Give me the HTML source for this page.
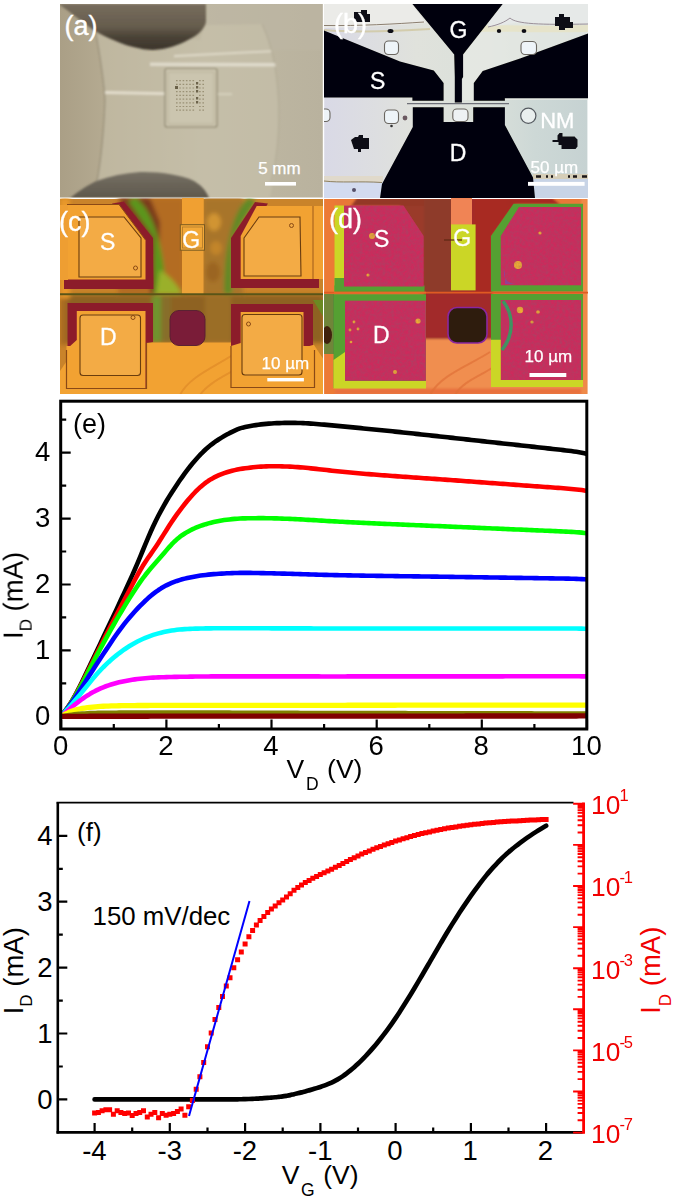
<!DOCTYPE html>
<html><head><meta charset="utf-8"><title>figure</title>
<style>
html,body{margin:0;padding:0;background:#fff;}
body{width:675px;height:1199px;overflow:hidden;font-family:"Liberation Sans",sans-serif;}
svg{display:block;}
text{font-family:"Liberation Sans",sans-serif;}
</style></head><body>
<svg width="675" height="1199" viewBox="0 0 675 1199">
<rect x="0" y="0" width="675" height="1199" fill="#ffffff"/>
<defs>
<filter id="b06" x="-5%" y="-5%" width="110%" height="110%"><feGaussianBlur stdDeviation="0.6"/></filter>
<filter id="b1" x="-5%" y="-5%" width="110%" height="110%"><feGaussianBlur stdDeviation="1.0"/></filter>
<filter id="b2" x="-10%" y="-10%" width="120%" height="120%"><feGaussianBlur stdDeviation="2.0"/></filter>
<filter id="b4" x="-20%" y="-20%" width="140%" height="140%"><feGaussianBlur stdDeviation="4.0"/></filter>
<filter id="b8" x="-30%" y="-30%" width="160%" height="160%"><feGaussianBlur stdDeviation="8.0"/></filter>
<clipPath id="cA"><rect x="60.0" y="4.0" width="262.8" height="193.4"/></clipPath>
<clipPath id="cB"><rect x="324.2" y="4.0" width="263.2" height="193.4"/></clipPath>
<clipPath id="cC"><rect x="60.0" y="198.9" width="263.0" height="195.1"/></clipPath>
<clipPath id="cD"><rect x="324.2" y="198.9" width="263.2" height="195.1"/></clipPath>
<linearGradient id="gA" x1="0" y1="0" x2="1" y2="0"><stop offset="0" stop-color="#aa9f86"/><stop offset="0.18" stop-color="#b5ab92"/><stop offset="0.55" stop-color="#c0b9a3"/><stop offset="1" stop-color="#b9b29e"/></linearGradient>
<linearGradient id="gGloveT" x1="0" y1="0" x2="0" y2="1"><stop offset="0" stop-color="#776d5d"/><stop offset="0.5" stop-color="#665c4d"/><stop offset="0.72" stop-color="#4a4236"/><stop offset="1" stop-color="#3c352b"/></linearGradient>
<linearGradient id="gGloveB" x1="0" y1="0" x2="0" y2="1"><stop offset="0" stop-color="#767064"/><stop offset="1" stop-color="#5e584c"/></linearGradient>
<linearGradient id="gB" x1="0" y1="0" x2="1" y2="0"><stop offset="0" stop-color="#d9d9e6"/><stop offset="0.35" stop-color="#e0e2dc"/><stop offset="0.62" stop-color="#dae0da"/><stop offset="0.8" stop-color="#cdd8d6"/><stop offset="1" stop-color="#c6d2d2"/></linearGradient>
<filter id="nz" x="0" y="0" width="100%" height="100%"><feTurbulence type="fractalNoise" baseFrequency="0.35" numOctaves="2" seed="7" result="t"/><feColorMatrix in="t" type="matrix" values="0 0 0 0 0.25  0 0 0 0 0.1  0 0 0 0 0.15  0.9 0.9 0 0 -0.62"/></filter>
<filter id="nz2" x="0" y="0" width="100%" height="100%"><feTurbulence type="fractalNoise" baseFrequency="0.5" numOctaves="2" seed="3" result="t"/><feColorMatrix in="t" type="matrix" values="0 0 0 0 0.45  0 0 0 0 0.22  0 0 0 0 0.02  0.9 0.9 0 0 -0.66"/></filter>
<clipPath id="cD1"><path d="M344,205.5 L403.5,205.5 L423.7,236 L423.7,286.5 L344,286.5 Z"/></clipPath>
<clipPath id="cD2"><path d="M500.8,236 L519,207 L581,207 L581,285.3 L500.8,285.3 Z"/></clipPath>
</defs>
<g id="panel-a" clip-path="url(#cA)">
<rect x="60" y="4" width="263" height="194" fill="url(#gA)"/>
<g filter="url(#b1)">
<path d="M95,28 C99,50 104,80 105,100 C104,130 101,160 97,182 L97,198 L270,198 C276,165 280,135 278.5,100 C277,70 272,45 262,24 L205,25 L200,40 Z" fill="#c9c3ad" opacity="0.5"/>
<path d="M208,4 L208,25 L262,24 L272,50 L322,50 L322,4 Z" fill="#bdb6a3" opacity="0.6"/>
<path d="M95,28 C99,50 104,80 105,100 C104,130 101,160 97,182" stroke="#7d745e" stroke-width="0.9" fill="none" opacity="0.8"/>
<path d="M262,24 C272,45 277,70 278.5,100 C280,135 276,165 270,185" stroke="#a9a28d" stroke-width="1" fill="none" opacity="0.7"/>
<path d="M174,55 L271,50.2 L271.6,52.2 L174,57.2 Z" fill="#efeadb" opacity="0.6"/>
<path d="M150,62.6 L275,63 L276,66.6 L150,66 Z" fill="#f2eee2" opacity="0.6"/>
<path d="M105,91 L165,92.2 L165,95 L105,94 Z" fill="#ece7d8" opacity="0.8"/><path d="M217,93 L232,93 L232,95.2 L217,95.2 Z" fill="#e6e1d0" opacity="0.5"/>
<rect x="165" y="68.5" width="52" height="58.5" rx="2" fill="#cbc5af" stroke="#857d64" stroke-width="1.1"/>
<rect x="168" y="72" width="46" height="52" rx="1" fill="none" stroke="#b4ac92" stroke-width="0.7"/>
</g>
<path d="M176.0,80.0h1.6v1.2h-1.6zM179.3,80.0h1.6v1.2h-1.6zM182.6,80.0h1.6v1.2h-1.6zM185.9,80.0h1.6v1.2h-1.6zM189.2,80.0h1.6v1.2h-1.6zM192.5,80.0h1.6v1.2h-1.6zM199.1,80.0h1.6v1.2h-1.6zM202.4,80.0h1.6v1.2h-1.6zM176.0,83.7h1.6v1.2h-1.6zM179.3,83.7h1.6v1.2h-1.6zM182.6,83.7h1.6v1.2h-1.6zM185.9,83.7h1.6v1.2h-1.6zM189.2,83.7h1.6v1.2h-1.6zM192.5,83.7h1.6v1.2h-1.6zM199.1,83.7h1.6v1.2h-1.6zM202.4,83.7h1.6v1.2h-1.6zM176.0,87.4h1.6v1.2h-1.6zM179.3,87.4h1.6v1.2h-1.6zM182.6,87.4h1.6v1.2h-1.6zM185.9,87.4h1.6v1.2h-1.6zM189.2,87.4h1.6v1.2h-1.6zM192.5,87.4h1.6v1.2h-1.6zM199.1,87.4h1.6v1.2h-1.6zM202.4,87.4h1.6v1.2h-1.6zM176.0,91.1h1.6v1.2h-1.6zM179.3,91.1h1.6v1.2h-1.6zM182.6,91.1h1.6v1.2h-1.6zM185.9,91.1h1.6v1.2h-1.6zM189.2,91.1h1.6v1.2h-1.6zM192.5,91.1h1.6v1.2h-1.6zM199.1,91.1h1.6v1.2h-1.6zM202.4,91.1h1.6v1.2h-1.6zM176.0,94.8h1.6v1.2h-1.6zM179.3,94.8h1.6v1.2h-1.6zM182.6,94.8h1.6v1.2h-1.6zM185.9,94.8h1.6v1.2h-1.6zM189.2,94.8h1.6v1.2h-1.6zM192.5,94.8h1.6v1.2h-1.6zM199.1,94.8h1.6v1.2h-1.6zM202.4,94.8h1.6v1.2h-1.6zM176.0,98.5h1.6v1.2h-1.6zM179.3,98.5h1.6v1.2h-1.6zM182.6,98.5h1.6v1.2h-1.6zM185.9,98.5h1.6v1.2h-1.6zM189.2,98.5h1.6v1.2h-1.6zM192.5,98.5h1.6v1.2h-1.6zM199.1,98.5h1.6v1.2h-1.6zM202.4,98.5h1.6v1.2h-1.6zM176.0,102.2h1.6v1.2h-1.6zM179.3,102.2h1.6v1.2h-1.6zM182.6,102.2h1.6v1.2h-1.6zM185.9,102.2h1.6v1.2h-1.6zM189.2,102.2h1.6v1.2h-1.6zM192.5,102.2h1.6v1.2h-1.6zM199.1,102.2h1.6v1.2h-1.6zM202.4,102.2h1.6v1.2h-1.6zM176.0,105.9h1.6v1.2h-1.6zM179.3,105.9h1.6v1.2h-1.6zM182.6,105.9h1.6v1.2h-1.6zM185.9,105.9h1.6v1.2h-1.6zM189.2,105.9h1.6v1.2h-1.6zM192.5,105.9h1.6v1.2h-1.6zM199.1,105.9h1.6v1.2h-1.6zM202.4,105.9h1.6v1.2h-1.6zM176.0,109.6h1.6v1.2h-1.6zM179.3,109.6h1.6v1.2h-1.6zM182.6,109.6h1.6v1.2h-1.6zM185.9,109.6h1.6v1.2h-1.6zM189.2,109.6h1.6v1.2h-1.6zM192.5,109.6h1.6v1.2h-1.6zM199.1,109.6h1.6v1.2h-1.6zM202.4,109.6h1.6v1.2h-1.6z" fill="#8a7f62" opacity="0.75"/>
<path d="M175,86h3v3h-3z M196,82h2.2v2.6h-2.2z M196,86h2.2v2.6h-2.2z M196,90h2.2v2.6h-2.2z M196,97h2.2v2.6h-2.2z M196,101h2.2v2.6h-2.2z" fill="#5c513a" opacity="0.85"/>
<g filter="url(#b1)">
<path d="M60,4 L60,5 C72,13 84,24 94.7,30.7 C102,35 108,38 113.3,40 C122,44 131,47 140,48.5 C145,49.6 149,50 153.3,49.9 C160,49.5 166,48.5 172,46.7 C178,45 183,43 188,40 C193,37.5 198,34.5 201.3,30.7 C204,27.5 206,24 206,21.3 L206,4 Z" fill="url(#gGloveT)"/>
<path d="M70,198 C80,190 88,185 96.5,181 C110,176 125,173 140,172 C160,171.5 180,175 192,180 C200,184 206,190 209,198 Z" fill="url(#gGloveB)"/>
</g>
</g>
<text x="64.4" y="35.0" font-size="27" fill="#fff" stroke="#fff" stroke-width="0.35">(a)</text>
<text x="258.2" y="174.0" font-size="17" fill="#fff" stroke="#fff" stroke-width="0.25">5 mm</text>
<rect x="265" y="182" width="31" height="3.6" fill="#fff"/>
<g id="panel-b" clip-path="url(#cB)">
<rect x="324" y="4" width="264" height="194" fill="url(#gB)"/>
<g filter="url(#b06)">
<path d="M463,4 H588 V100 H463 Z" fill="#e7eae4" opacity="0.75"/>
<path d="M470,26 C500,24 540,27 588,25 V32 C540,33 500,31 476,32 Z" fill="#e6e2c4" opacity="0.8"/>
<path d="M324,4 H412 L426,23 C400,25 370,27 324,28 Z" fill="#ebebe8"/>
<path d="M324,25.5 C360,26 395,24 424,22" stroke="#8c7f70" stroke-width="1" fill="none"/>
<path d="M324,30 C360,33 400,31 430,29" stroke="#cfc7a0" stroke-width="2" fill="none" opacity="0.8"/>
<path d="M492,4 H588 V24 C560,22 540,25 515,23 C505,24 498,26 488,27 Z" fill="#e6e9e8"/>
<path d="M488,27 C498,25 505,22 510,18 C516,24 540,25 588,24" stroke="#9a8f98" stroke-width="1" fill="none"/>
<path d="M324,182 H383 V198 H324 Z" fill="#d3dbef"/>
<path d="M533,179 H588 V198 H533 Z" fill="#c8d4e6"/>
<path d="M324,176 H383 V182 H324 Z" fill="#e0d8c8" opacity="0.9"/>
<path d="M324,181 C340,183 360,181 382,182.5" stroke="#8c7f60" stroke-width="1" fill="none"/>
<path d="M533,174 H588 V179 H533 Z" fill="#d8ccb0" opacity="0.8"/>
<path d="M324,30.5 L400,61.6 L433.8,70.4 L443.6,82.9 L443.6,100.7 L412.4,100.7 L412.4,97.6 L324,97.6 Z" fill="#060608"/>
<path d="M588,33.5 L520,58.5 L482.7,71 L473.8,82.9 L473.8,100.7 L504.9,100.7 L504.9,98.2 L588,98.2 Z" fill="#060608"/>
<path d="M412.4,4 L502.7,4 L463.1,54.4 L463.1,77 L461.9,79 L461.9,102.4 L454.8,102.4 L454.8,77 L454.2,54.4 Z" fill="#060608"/>
<path d="M412.8,107.2 H443.6 V122 H473.2 V107.2 H504.9 V125 L533,177.5 L535,198 L380,198 L382,184 L412.8,127 Z" fill="#060608"/>
<path d="M407,103.6 H509" stroke="#6e7078" stroke-width="1.4" fill="none"/>
<rect x="384.5" y="41.0" width="14.0" height="13.5" rx="4" fill="#eef4f8" stroke="#6a6660" stroke-width="1.1"/>
<rect x="521.0" y="41.5" width="15.5" height="13.0" rx="4" fill="#eef4f8" stroke="#6a6660" stroke-width="1.1"/>
<rect x="317.0" y="109.0" width="13.0" height="12.5" rx="4" fill="#eef4f8" stroke="#6a6660" stroke-width="1.1"/>
<rect x="384.5" y="110.0" width="14.0" height="13.5" rx="4" fill="#eef4f8" stroke="#6a6660" stroke-width="1.1"/>
<rect x="452.8" y="109.0" width="15.2" height="12.5" rx="4" fill="#eef2f4" stroke="#6a6660" stroke-width="1.1"/>
<ellipse cx="528.3" cy="115.8" rx="7.6" ry="7.6" fill="#e9efee" stroke="#555a60" stroke-width="1.2"/>
<path d="M354,12 h7 v-2 h6 v4 h3 v8 h-16 z" fill="#101012"/>
<ellipse cx="390.5" cy="31" rx="3" ry="2" fill="#101012"/>
<ellipse cx="499" cy="31" rx="2.2" ry="2" fill="#101012"/><ellipse cx="524" cy="31" rx="2.4" ry="2" fill="#101012"/>
<path d="M555,17 h4 v-3 h5 v3 h6 v5 h3 v6 h-8 v2 h-6 v-4 h-4 z" fill="#101012"/>
<path d="M351,140 l4,-3 h3 l1,-2 h4 v3 h6 v11 h-8 v3 h-3 v-3 h-4 z" fill="#101012"/>
<path d="M552.5,140 h5 v-4.5 l2,-2.5 h3 v3.5 h12 l3,3 v7 l-2,2.5 h-14 v-4 h-3 v-3 h-6 z" fill="#101012"/>
<ellipse cx="354" cy="190" rx="2" ry="2" fill="#555068"/>
<path d="M536,176.5 h5 M546,176.5 h2 M551,176.5 h2 M568,176.5 h2 M573,176.5 h4 M582,176.5 h5" stroke="#1a1816" stroke-width="2.6"/>
<ellipse cx="405" cy="118" rx="2.4" ry="2.4" fill="#6a5860"/>
<ellipse cx="391.5" cy="126" rx="1.3" ry="1.3" fill="#303030"/>
</g>
</g>
<text x="334.0" y="33.0" font-size="27" fill="#fff" stroke="#fff" stroke-width="0.35">(b)</text>
<text x="370.1" y="88.9" font-size="23" fill="#fff" stroke="#fff" stroke-width="0.3">S</text>
<text x="449.5" y="38.3" font-size="23" fill="#fff" stroke="#fff" stroke-width="0.3">G</text>
<text x="449.7" y="161.1" font-size="23" fill="#fff" stroke="#fff" stroke-width="0.3">D</text>
<text x="540.2" y="127.6" font-size="22" fill="#fff" stroke="#fff" stroke-width="0.3">NM</text>
<text x="530.6" y="173.0" font-size="17" fill="#fff" stroke="#fff" stroke-width="0.25">50 µm</text>
<rect x="528.0" y="181.9" width="56.6" height="3.9" fill="#fff"/>
<g id="panel-c" clip-path="url(#cC)">
<rect x="60" y="198" width="264" height="197" fill="#c9832a"/>
<g filter="url(#b2)">
<rect x="118" y="198" width="66" height="96" fill="#b36c22"/>
<path d="M118,198 H150 L160,222 L158,294 H150 L150,240 Z" fill="#7a3a1c"/>
<path d="M136,198 C154,212 164,248 166,294 L154,294 L154,238 L128,201 Z" fill="#5c961f"/>
<path d="M160,270 C168,275 176,282 182,294 L156,294 Z" fill="#9ab02a"/>
<rect x="203" y="198" width="40" height="96" fill="#a8742a"/>
<path d="M248,198 C232,212 224,248 224,294 L232,294 L232,238 L256,201 Z" fill="#5e8a26"/>
<ellipse cx="214" cy="222" rx="7" ry="9" fill="#d89a34" opacity="0.85"/>
<ellipse cx="216" cy="248" rx="6" ry="7" fill="#c88a2c" opacity="0.8"/>
<ellipse cx="213" cy="272" rx="7" ry="10" fill="#96601e" opacity="0.7"/>
<rect x="60" y="295" width="264" height="48" fill="#8e6222"/>
<rect x="152" y="296" width="9" height="46" fill="#6a9a30" opacity="0.9"/>
<rect x="161" y="296" width="10" height="46" fill="#86702a" opacity="0.9"/>
<rect x="205" y="296" width="26" height="46" fill="#9c7028" opacity="0.9"/>
<rect x="60" y="295" width="7" height="50" fill="#a86a22"/>
<rect x="60" y="198" width="10" height="100" fill="#e8982a"/>
</g>
<g filter="url(#b06)">
<path d="M60,371 L77,346 L152,342.5 L231,342.5 L314,345 L324,360 L324,395 L60,395 Z" fill="#f2a232"/>
<path d="M180,395 C190,375 220,365 240,350 M200,395 C210,380 235,372 250,360" stroke="#e08a28" stroke-width="2" fill="none" opacity="0.7"/>
<rect x="182" y="198" width="21.5" height="96.5" fill="#eda238"/>
<rect x="182" y="198" width="21.5" height="27" fill="#f0a030"/>
<rect x="180.3" y="224.7" width="24.2" height="25.5" fill="#f2a838" stroke="#7a5a20" stroke-width="1"/>
<rect x="182.5" y="227" width="20" height="21" fill="none" stroke="#b07828" stroke-width="0.8"/>
<path d="M112,203.5 L124,201.5 L153,238 L153.5,289 L64,289 L64,276 L140,276 L140,240 Z" fill="#8c1f2c"/>
<path d="M67,204.5 L119,204.5 L145.5,240 L145.5,279.5 L67,279.5 Z" fill="#f2a232"/>
<path d="M79,217 L124,217 L141,238 L141,277 L79,277 Z" fill="#f3ab45" stroke="#6a3c10" stroke-width="1.1"/>
<path d="M67,204.5 L119,204.5 L145.5,240" stroke="#8a4a14" stroke-width="1" fill="none"/>
<rect x="60" y="205" width="8" height="75" fill="#ee9e30"/>
<path d="M231,238 L255,202 L268,203.5 L246,238 L246,276 L319,276 L319,288 L231,288 Z" fill="#8c1f2c"/>
<path d="M240.7,236 L256.7,206 L323,206 L323,279 L240.7,279 Z" fill="#f2a232"/>
<path d="M244,238 L259,217 L300,217 L301,276 L244,276 Z" fill="#f3ab45" stroke="#6a3c10" stroke-width="1.1"/>
<path d="M313,206 V279" stroke="#8a4a14" stroke-width="1" fill="none" opacity="0.8"/>
<path d="M60,294.2 H324" stroke="#5a5418" stroke-width="2" fill="none"/>
<path d="M67.5,303 H153 V342 L146,343 V388 H67.5 Z" fill="#8c1f2c"/>
<path d="M66.5,346 L77,346 L77,388 L66.5,388 Z" fill="#f2a232"/>
<path d="M76.8,311 H145.5 V388 H68 V348 L76.8,340 Z" fill="#f2a232"/>
<path d="M66.5,350 V388.5 H146.5 V343" stroke="#8a4a14" stroke-width="1.2" fill="none"/>
<rect x="80" y="315" width="60.5" height="60.5" rx="3" fill="#f3ab45" stroke="#6a3c10" stroke-width="1.1"/>
<path d="M231,304 H313 V345 L306,347 V388 H231 Z" fill="#8c1f2c"/>
<path d="M240.7,312 H303.5 V346 L314,346 V387 H231 V346 L240.7,343 Z" fill="#f2a232"/>
<path d="M231,346 V387.5 H314.5 V350" stroke="#8a4a14" stroke-width="1.2" fill="none"/>
<rect x="242" y="314.5" width="60" height="60.5" rx="3" fill="#f3ab45" stroke="#6a3c10" stroke-width="1.1"/>
<path d="M313,300 L324,318 L324,300 Z" fill="#6a8a24"/>
<rect x="170" y="310.5" width="35" height="35" rx="9" fill="#7a1a38" stroke="#5a2030" stroke-width="1"/>
<circle cx="135.5" cy="268" r="2" fill="none" stroke="#8a4a14" stroke-width="1"/>
<circle cx="291.5" cy="225.5" r="2" fill="none" stroke="#8a4a14" stroke-width="1"/>
<circle cx="133" cy="317.5" r="2" fill="none" stroke="#8a4a14" stroke-width="1"/>
<circle cx="248.5" cy="324" r="2" fill="none" stroke="#8a4a14" stroke-width="1"/>
</g>
</g>
<text x="59.0" y="231.0" font-size="27" fill="#fff" stroke="#fff" stroke-width="0.35">(c)</text>
<text x="100.1" y="250.3" font-size="23" fill="#fff" stroke="#fff" stroke-width="0.3">S</text>
<text x="182.3" y="248.1" font-size="23" fill="#fff" stroke="#fff" stroke-width="0.3">G</text>
<text x="99.9" y="344.9" font-size="23" fill="#fff" stroke="#fff" stroke-width="0.3">D</text>
<text x="261.6" y="369.4" font-size="17" fill="#fff" stroke="#fff" stroke-width="0.25">10 µm</text>
<rect x="267.3" y="378" width="36.6" height="3.4" fill="#fff"/>
<g id="panel-d" clip-path="url(#cD)">
<rect x="324" y="198" width="264" height="197" fill="#e87838"/>
<g filter="url(#b1)">
<rect x="424" y="198" width="68" height="141" fill="#a22c2a"/>
<path d="M388,198 H452 V293 H420 V234 L400,206 Z" fill="#9a3a2a"/>
<path d="M357,198 H452 V206 H351 Z" fill="#943828"/>
<path d="M474,198 H520 L491,238 V293 H474 Z" fill="#a82a22"/>
<path d="M510,198 H552 L560,204.5 H506 Z" fill="#a62c22"/>
<rect x="424" y="198" width="28" height="95" fill="#8e3a2a"/>
<rect x="476" y="198" width="16" height="95" fill="#a82a22"/>
<rect x="324" y="339" width="264" height="56" fill="#f08e50"/>
<rect x="324" y="388.5" width="264" height="6" fill="#e8703c"/>
<rect x="324" y="198" width="11" height="197" fill="#ec7a34"/>
<rect x="581" y="198" width="7" height="197" fill="#ef8a48"/>
</g>
<g filter="url(#b06)">
<path d="M430,395 C440,375 470,365 490,352 M455,395 C462,382 480,376 492,368" stroke="#e07038" stroke-width="2" fill="none" opacity="0.7"/>
<rect x="451" y="198" width="21" height="27" fill="#f08454"/>
<rect x="451" y="224.4" width="24.6" height="66" fill="#cbd625"/>
<path d="M444,240 H462" stroke="#5a2a10" stroke-width="1.2"/>
<path d="M334.5,205.5 H350 V291.7 H334.5 Z" fill="#cbd625"/>
<path d="M334.5,278 H346 V291.7 H334.5 Z" fill="#55a030"/>
<rect x="334.5" y="285.5" width="90" height="6.5" fill="#55a030"/>
<path d="M344,205.5 L403.5,205.5 L423.7,236 L423.7,286.5 L344,286.5 Z" fill="#cd2c5b"/>
<path d="M491,236 L513.5,203.8 L583,203.8 L583,291.5 L491,291.5 Z" fill="#55a030"/>
<path d="M500.8,236 L519,207 L581,207 L581,285.3 L500.8,285.3 Z" fill="#cd2c5b"/>
<path d="M505,270 a12,10 0 0 0 12,14 h-12 z" fill="#6a50c0" opacity="0.6"/>
<path d="M324,292.6 H588" stroke="#e05a20" stroke-width="1.6" fill="none"/>
<path d="M334,292.6 H426" stroke="#e86a28" stroke-width="1.6" fill="none"/>
<path d="M333.5,294.2 H426 V388 H333.5 Z" fill="#55a030"/>
<path d="M333.5,360 L345,352 V381 H426 V388.5 H333.5 Z" fill="#cbd625"/>
<rect x="345" y="300.7" width="80.8" height="80" fill="#cd2c5b"/>
<rect x="324" y="294" width="10" height="60" fill="#3a8a3a" opacity="0.7"/>
<ellipse cx="327" cy="335" rx="5" ry="9" fill="#402010"/>
<path d="M491,294 H583 V387 H491 Z" fill="#55a030"/>
<path d="M491,339.7 H501 V380 H583 V387 H491 Z" fill="#cbd625"/>
<rect x="500.8" y="300" width="80.2" height="80" fill="#cd2c5b"/>
<path d="M503,301 C514,315 514,335 502,350" stroke="#30a060" stroke-width="3.5" fill="none"/>
<rect x="448" y="307.5" width="39" height="35.5" rx="9" fill="#2e1a0c" stroke="#8a28a0" stroke-width="1.6"/>
<circle cx="372.0" cy="236.0" r="3.0" fill="#f0b030"/>
<circle cx="368.0" cy="275.0" r="1.6" fill="#f0b030"/>
<circle cx="354.0" cy="322.0" r="1.4" fill="#f0b030"/>
<circle cx="350.0" cy="330.0" r="1.4" fill="#f0b030"/>
<circle cx="358.0" cy="329.0" r="1.4" fill="#f0b030"/>
<circle cx="351.0" cy="342.0" r="1.3" fill="#f0b030"/>
<circle cx="418.0" cy="321.0" r="2.6" fill="#f0b030"/>
<circle cx="395.0" cy="372.0" r="2.0" fill="#f0b030"/>
<circle cx="518.0" cy="265.0" r="4.0" fill="#f0b030"/>
<circle cx="540.0" cy="233.0" r="1.6" fill="#f0b030"/>
<circle cx="520.0" cy="310.0" r="3.2" fill="#f0b030"/>
<circle cx="538.0" cy="312.0" r="1.8" fill="#f0b030"/>
<circle cx="532.0" cy="322.0" r="1.6" fill="#f0b030"/>
</g>
</g>
<g clip-path="url(#cD1)"><rect x="344" y="205" width="80" height="82" filter="url(#nz)" opacity="0.55"/></g>
<g clip-path="url(#cD2)"><rect x="500" y="206" width="82" height="80" filter="url(#nz)" opacity="0.55"/></g>
<g clip-path="url(#cD)"><rect x="345" y="301" width="81" height="80" filter="url(#nz)" opacity="0.55"/></g>
<g clip-path="url(#cD)"><rect x="501" y="300" width="80" height="80" filter="url(#nz)" opacity="0.55"/></g>
<text x="329.0" y="228.2" font-size="27" fill="#fff" stroke="#fff" stroke-width="0.35">(d)</text>
<text x="373.9" y="247.1" font-size="23" fill="#fff" stroke="#fff" stroke-width="0.3">S</text>
<text x="453.3" y="245.9" font-size="23" fill="#fff" stroke="#fff" stroke-width="0.3">G</text>
<text x="373.1" y="342.5" font-size="23" fill="#fff" stroke="#fff" stroke-width="0.3">D</text>
<text x="524.6" y="362.4" font-size="17" fill="#fff" stroke="#fff" stroke-width="0.25">10 µm</text>
<rect x="529.5" y="373" width="36.8" height="4" fill="#fff"/>
<g id="chart-e">
<clipPath id="clipE"><rect x="61.2" y="401.2" width="525.8" height="327.8"/></clipPath>
<path d="M61.2,716.3 h9.5 M61.2,683.3 h5.0 M61.2,650.4 h9.5 M61.2,617.4 h5.0 M61.2,584.5 h9.5 M61.2,551.5 h5.0 M61.2,518.6 h9.5 M61.2,485.6 h5.0 M61.2,452.7 h9.5 M61.2,419.7 h5.0 M61.2,729.0 v-9.5 M113.8,729.0 v-5.0 M166.4,729.0 v-9.5 M218.9,729.0 v-5.0 M271.5,729.0 v-9.5 M324.1,729.0 v-5.0 M376.7,729.0 v-9.5 M429.3,729.0 v-5.0 M481.8,729.0 v-9.5 M534.4,729.0 v-5.0 M587.0,729.0 v-9.5" stroke="#000" stroke-width="2.2" fill="none"/>
<g clip-path="url(#clipE)" fill="none" stroke-linejoin="round" stroke-linecap="butt">
<polyline points="61.20,715.78 63.83,712.63 66.46,709.20 69.09,705.43 71.72,701.29 74.34,696.77 76.97,691.91 79.60,686.78 82.23,681.46 84.86,676.04 87.49,670.55 90.12,665.04 92.75,659.51 95.38,653.97 98.01,648.43 100.63,642.90 103.26,637.36 105.89,631.83 108.52,626.30 111.15,620.76 113.78,615.20 116.41,609.62 119.04,604.00 121.67,598.33 124.30,592.64 126.92,586.92 129.55,581.17 132.18,575.38 134.81,569.48 137.44,563.41 140.07,557.14 142.70,550.75 145.33,544.34 147.96,538.06 150.59,532.02 153.21,526.26 155.84,520.77 158.47,515.54 161.10,510.56 163.73,505.80 166.36,501.25 168.99,496.89 171.62,492.70 174.25,488.63 176.88,484.68 179.50,480.83 182.13,477.08 184.76,473.43 187.39,469.90 190.02,466.51 192.65,463.27 195.28,460.18 197.91,457.24 200.54,454.43 203.17,451.78 205.79,449.28 208.42,446.96 211.05,444.80 213.68,442.81 216.31,440.96 218.94,439.23 221.57,437.61 224.20,436.06 226.83,434.59 229.46,433.17 232.08,431.83 234.71,430.57 237.34,429.41 239.97,428.38 242.60,427.65 245.23,427.03 247.86,426.47 250.49,425.98 253.12,425.53 255.75,425.11 258.38,424.74 261.00,424.40 263.63,424.11 266.26,423.85 268.89,423.64 271.52,423.45 274.15,423.30 276.78,423.17 279.41,423.08 282.04,423.01 284.66,422.92 287.29,422.86 289.92,422.83 292.55,422.84 295.18,422.87 297.81,422.94 300.44,423.02 303.07,423.14 305.70,423.27 308.33,423.42 310.95,423.59 313.58,423.78 316.21,423.98 318.84,424.20 321.47,424.42 324.10,424.65 326.73,424.89 329.36,425.13 331.99,425.38 334.62,425.63 337.24,425.88 339.87,426.13 342.50,426.38 345.13,426.64 347.76,426.89 350.39,427.14 353.02,427.40 355.65,427.65 358.28,427.91 360.91,428.16 363.53,428.42 366.16,428.68 368.79,428.93 371.42,429.19 374.05,429.45 376.68,429.72 379.31,429.98 381.94,430.25 384.57,430.51 387.20,430.78 389.82,431.06 392.45,431.33 395.08,431.60 397.71,431.88 400.34,432.16 402.97,432.44 405.60,432.72 408.23,433.00 410.86,433.29 413.49,433.57 416.11,433.86 418.74,434.14 421.37,434.43 424.00,434.72 426.63,435.01 429.26,435.30 431.89,435.59 434.52,435.87 437.15,436.16 439.78,436.45 442.40,436.75 445.03,437.04 447.66,437.33 450.29,437.62 452.92,437.91 455.55,438.20 458.18,438.49 460.81,438.78 463.44,439.07 466.07,439.36 468.69,439.65 471.32,439.94 473.95,440.23 476.58,440.52 479.21,440.81 481.84,441.10 484.47,441.39 487.10,441.68 489.73,441.97 492.36,442.26 494.98,442.55 497.61,442.84 500.24,443.13 502.87,443.42 505.50,443.71 508.13,444.00 510.76,444.29 513.39,444.58 516.02,444.87 518.65,445.16 521.27,445.45 523.90,445.74 526.53,446.03 529.16,446.32 531.79,446.61 534.42,446.90 537.05,447.19 539.68,447.48 542.31,447.77 544.94,448.06 547.56,448.35 550.19,448.64 552.82,448.93 555.45,449.22 558.08,449.52 560.71,449.82 563.34,450.12 565.97,450.43 568.60,450.75 571.23,451.09 573.86,451.45 576.48,451.83 579.11,452.26 581.74,452.73 584.37,453.27 587.00,453.90" stroke="#000000" stroke-width="4.6"/>
<polyline points="61.20,715.84 63.83,712.69 66.46,709.28 69.09,705.58 71.72,701.54 74.34,697.17 76.97,692.50 79.60,687.58 82.23,682.51 84.86,677.34 87.49,672.11 90.12,666.86 92.75,661.59 95.38,656.31 98.01,651.03 100.63,645.77 103.26,640.53 105.89,635.34 108.52,630.19 111.15,625.10 113.78,620.06 116.41,615.04 119.04,610.05 121.67,605.06 124.30,600.07 126.92,595.07 129.55,590.05 132.18,585.03 134.81,580.04 137.44,575.17 140.07,570.50 142.70,566.09 145.33,561.97 147.96,558.08 150.59,554.32 153.21,550.56 155.84,546.71 158.47,542.71 161.10,538.59 163.73,534.39 166.36,530.19 168.99,526.06 171.62,522.04 174.25,518.16 176.88,514.41 179.50,510.79 182.13,507.31 184.76,503.96 187.39,500.75 190.02,497.68 192.65,494.75 195.28,491.98 197.91,489.37 200.54,486.93 203.17,484.69 205.79,482.65 208.42,480.81 211.05,479.16 213.68,477.68 216.31,476.36 218.94,475.16 221.57,474.09 224.20,473.12 226.83,472.26 229.46,471.48 232.08,470.77 234.71,470.13 237.34,469.54 239.97,469.01 242.60,468.62 245.23,468.25 247.86,467.91 250.49,467.60 253.12,467.30 255.75,467.04 258.38,466.80 261.00,466.61 263.63,466.45 266.26,466.34 268.89,466.27 271.52,466.23 274.15,466.24 276.78,466.27 279.41,466.32 282.04,466.41 284.66,466.46 287.29,466.54 289.92,466.65 292.55,466.79 295.18,466.95 297.81,467.13 300.44,467.34 303.07,467.57 305.70,467.81 308.33,468.07 310.95,468.34 313.58,468.62 316.21,468.90 318.84,469.20 321.47,469.49 324.10,469.79 326.73,470.08 329.36,470.38 331.99,470.67 334.62,470.96 337.24,471.24 339.87,471.51 342.50,471.78 345.13,472.04 347.76,472.30 350.39,472.55 353.02,472.80 355.65,473.04 358.28,473.27 360.91,473.50 363.53,473.72 366.16,473.94 368.79,474.16 371.42,474.37 374.05,474.58 376.68,474.78 379.31,474.99 381.94,475.18 384.57,475.38 387.20,475.58 389.82,475.77 392.45,475.96 395.08,476.15 397.71,476.34 400.34,476.52 402.97,476.71 405.60,476.89 408.23,477.08 410.86,477.26 413.49,477.44 416.11,477.62 418.74,477.81 421.37,477.99 424.00,478.17 426.63,478.35 429.26,478.54 431.89,478.72 434.52,478.91 437.15,479.09 439.78,479.28 442.40,479.46 445.03,479.65 447.66,479.84 450.29,480.03 452.92,480.22 455.55,480.41 458.18,480.60 460.81,480.79 463.44,480.98 466.07,481.17 468.69,481.37 471.32,481.56 473.95,481.75 476.58,481.95 479.21,482.14 481.84,482.34 484.47,482.53 487.10,482.72 489.73,482.92 492.36,483.11 494.98,483.30 497.61,483.50 500.24,483.69 502.87,483.88 505.50,484.08 508.13,484.27 510.76,484.46 513.39,484.65 516.02,484.85 518.65,485.04 521.27,485.23 523.90,485.42 526.53,485.61 529.16,485.80 531.79,485.99 534.42,486.18 537.05,486.37 539.68,486.56 542.31,486.75 544.94,486.94 547.56,487.13 550.19,487.32 552.82,487.50 555.45,487.69 558.08,487.89 560.71,488.08 563.34,488.28 565.97,488.49 568.60,488.70 571.23,488.93 573.86,489.17 576.48,489.44 579.11,489.74 581.74,490.09 584.37,490.49 587.00,490.97" stroke="#ff0000" stroke-width="4.6"/>
<polyline points="61.20,715.90 63.83,712.74 66.46,709.37 69.09,705.73 71.72,701.80 74.34,697.58 76.97,693.08 79.60,688.36 82.23,683.47 84.86,678.47 87.49,673.40 90.12,668.30 92.75,663.21 95.38,658.17 98.01,653.18 100.63,648.26 103.26,643.40 105.89,638.60 108.52,633.85 111.15,629.15 113.78,624.50 116.41,619.92 119.04,615.40 121.67,610.96 124.30,606.59 126.92,602.30 129.55,598.08 132.18,593.94 134.81,589.90 137.44,585.96 140.07,582.16 142.70,578.52 145.33,575.04 147.96,571.72 150.59,568.56 153.21,565.51 155.84,562.53 158.47,559.57 161.10,556.56 163.73,553.48 166.36,550.38 168.99,547.34 171.62,544.44 174.25,541.76 176.88,539.34 179.50,537.17 182.13,535.22 184.76,533.48 187.39,531.90 190.02,530.47 192.65,529.18 195.28,527.99 197.91,526.91 200.54,525.92 203.17,525.01 205.79,524.17 208.42,523.40 211.05,522.70 213.68,522.06 216.31,521.48 218.94,520.96 221.57,520.50 224.20,520.09 226.83,519.73 229.46,519.41 232.08,519.13 234.71,518.89 237.34,518.68 239.97,518.50 242.60,518.42 245.23,518.36 247.86,518.30 250.49,518.26 253.12,518.22 255.75,518.19 258.38,518.17 261.00,518.16 263.63,518.16 266.26,518.18 268.89,518.21 271.52,518.26 274.15,518.33 276.78,518.41 279.41,518.51 282.04,518.62 284.66,518.70 287.29,518.80 289.92,518.91 292.55,519.02 295.18,519.15 297.81,519.28 300.44,519.42 303.07,519.56 305.70,519.71 308.33,519.86 310.95,520.01 313.58,520.17 316.21,520.32 318.84,520.48 321.47,520.63 324.10,520.79 326.73,520.94 329.36,521.09 331.99,521.24 334.62,521.39 337.24,521.53 339.87,521.68 342.50,521.82 345.13,521.96 347.76,522.09 350.39,522.23 353.02,522.36 355.65,522.49 358.28,522.62 360.91,522.75 363.53,522.87 366.16,523.00 368.79,523.12 371.42,523.24 374.05,523.36 376.68,523.48 379.31,523.60 381.94,523.72 384.57,523.83 387.20,523.95 389.82,524.06 392.45,524.18 395.08,524.29 397.71,524.40 400.34,524.51 402.97,524.63 405.60,524.74 408.23,524.85 410.86,524.96 413.49,525.07 416.11,525.18 418.74,525.29 421.37,525.40 424.00,525.51 426.63,525.62 429.26,525.73 431.89,525.84 434.52,525.95 437.15,526.06 439.78,526.17 442.40,526.29 445.03,526.40 447.66,526.51 450.29,526.62 452.92,526.73 455.55,526.85 458.18,526.96 460.81,527.07 463.44,527.19 466.07,527.30 468.69,527.41 471.32,527.53 473.95,527.64 476.58,527.75 479.21,527.87 481.84,527.98 484.47,528.09 487.10,528.21 489.73,528.32 492.36,528.43 494.98,528.55 497.61,528.66 500.24,528.77 502.87,528.89 505.50,529.00 508.13,529.11 510.76,529.23 513.39,529.34 516.02,529.45 518.65,529.56 521.27,529.67 523.90,529.79 526.53,529.90 529.16,530.01 531.79,530.12 534.42,530.23 537.05,530.34 539.68,530.46 542.31,530.57 544.94,530.68 547.56,530.79 550.19,530.90 552.82,531.01 555.45,531.12 558.08,531.24 560.71,531.35 563.34,531.47 565.97,531.60 568.60,531.73 571.23,531.87 573.86,532.03 576.48,532.21 579.11,532.41 581.74,532.65 584.37,532.94 587.00,533.29" stroke="#00ff00" stroke-width="4.6"/>
<polyline points="61.20,716.10 63.83,712.89 66.46,709.57 69.09,706.12 71.72,702.51 74.34,698.76 76.97,694.86 79.60,690.86 82.23,686.78 84.86,682.65 87.49,678.49 90.12,674.34 92.75,670.20 95.38,666.11 98.01,662.06 100.63,658.05 103.26,654.07 105.89,650.11 108.52,646.15 111.15,642.21 113.78,638.31 116.41,634.51 119.04,630.82 121.67,627.28 124.30,623.88 126.92,620.61 129.55,617.47 132.18,614.43 134.81,611.49 137.44,608.65 140.07,605.91 142.70,603.27 145.33,600.74 147.96,598.33 150.59,596.04 153.21,593.89 155.84,591.89 158.47,590.03 161.10,588.33 163.73,586.77 166.36,585.35 168.99,584.07 171.62,582.92 174.25,581.88 176.88,580.94 179.50,580.09 182.13,579.32 184.76,578.63 187.39,578.00 190.02,577.42 192.65,576.89 195.28,576.41 197.91,575.98 200.54,575.58 203.17,575.23 205.79,574.91 208.42,574.62 211.05,574.36 213.68,574.13 216.31,573.92 218.94,573.74 221.57,573.58 224.20,573.44 226.83,573.31 229.46,573.19 232.08,573.09 234.71,573.00 237.34,572.93 239.97,572.87 242.60,572.86 245.23,572.87 247.86,572.88 250.49,572.91 253.12,572.94 255.75,572.98 258.38,573.03 261.00,573.08 263.63,573.13 266.26,573.18 268.89,573.24 271.52,573.30 274.15,573.37 276.78,573.44 279.41,573.51 282.04,573.59 284.66,573.66 287.29,573.73 289.92,573.81 292.55,573.89 295.18,573.97 297.81,574.05 300.44,574.13 303.07,574.22 305.70,574.30 308.33,574.38 310.95,574.46 313.58,574.54 316.21,574.61 318.84,574.69 321.47,574.76 324.10,574.83 326.73,574.90 329.36,574.96 331.99,575.03 334.62,575.09 337.24,575.15 339.87,575.20 342.50,575.26 345.13,575.31 347.76,575.36 350.39,575.41 353.02,575.46 355.65,575.51 358.28,575.56 360.91,575.60 363.53,575.64 366.16,575.69 368.79,575.73 371.42,575.77 374.05,575.81 376.68,575.85 379.31,575.89 381.94,575.92 384.57,575.96 387.20,576.00 389.82,576.04 392.45,576.07 395.08,576.11 397.71,576.14 400.34,576.18 402.97,576.21 405.60,576.25 408.23,576.28 410.86,576.32 413.49,576.35 416.11,576.39 418.74,576.42 421.37,576.46 424.00,576.49 426.63,576.53 429.26,576.56 431.89,576.60 434.52,576.64 437.15,576.67 439.78,576.71 442.40,576.74 445.03,576.78 447.66,576.82 450.29,576.86 452.92,576.89 455.55,576.93 458.18,576.97 460.81,577.01 463.44,577.05 466.07,577.08 468.69,577.12 471.32,577.16 473.95,577.20 476.58,577.24 479.21,577.28 481.84,577.32 484.47,577.36 487.10,577.40 489.73,577.44 492.36,577.48 494.98,577.51 497.61,577.55 500.24,577.59 502.87,577.63 505.50,577.67 508.13,577.71 510.76,577.75 513.39,577.79 516.02,577.83 518.65,577.87 521.27,577.91 523.90,577.95 526.53,577.99 529.16,578.03 531.79,578.07 534.42,578.11 537.05,578.15 539.68,578.19 542.31,578.23 544.94,578.27 547.56,578.31 550.19,578.35 552.82,578.39 555.45,578.43 558.08,578.47 560.71,578.51 563.34,578.56 565.97,578.61 568.60,578.67 571.23,578.73 573.86,578.81 576.48,578.90 579.11,579.01 581.74,579.14 584.37,579.32 587.00,579.54" stroke="#0000ff" stroke-width="4.6"/>
<polyline points="61.20,716.25 63.83,713.33 66.46,710.39 69.09,707.41 71.72,704.40 74.34,701.35 76.97,698.25 79.60,695.10 82.23,691.90 84.86,688.64 87.49,685.36 90.12,682.10 92.75,678.89 95.38,675.78 98.01,672.81 100.63,669.97 103.26,667.26 105.89,664.68 108.52,662.19 111.15,659.82 113.78,657.54 116.41,655.36 119.04,653.30 121.67,651.34 124.30,649.48 126.92,647.72 129.55,646.05 132.18,644.46 134.81,642.97 137.44,641.55 140.07,640.23 142.70,638.99 145.33,637.84 147.96,636.79 150.59,635.81 153.21,634.92 155.84,634.11 158.47,633.36 161.10,632.69 163.73,632.07 166.36,631.51 168.99,631.00 171.62,630.55 174.25,630.16 176.88,629.83 179.50,629.56 182.13,629.34 184.76,629.15 187.39,629.00 190.02,628.87 192.65,628.76 195.28,628.66 197.91,628.58 200.54,628.51 203.17,628.46 205.79,628.41 208.42,628.37 211.05,628.33 213.68,628.31 216.31,628.29 218.94,628.27 221.57,628.27 224.20,628.26 226.83,628.26 229.46,628.26 232.08,628.26 234.71,628.27 237.34,628.27 239.97,628.27 242.60,628.28 245.23,628.28 247.86,628.29 250.49,628.29 253.12,628.30 255.75,628.30 258.38,628.30 261.00,628.31 263.63,628.31 266.26,628.32 268.89,628.32 271.52,628.33 274.15,628.34 276.78,628.34 279.41,628.35 282.04,628.35 284.66,628.36 287.29,628.37 289.92,628.37 292.55,628.38 295.18,628.39 297.81,628.39 300.44,628.40 303.07,628.40 305.70,628.41 308.33,628.41 310.95,628.42 313.58,628.43 316.21,628.43 318.84,628.43 321.47,628.44 324.10,628.44 326.73,628.45 329.36,628.45 331.99,628.46 334.62,628.46 337.24,628.46 339.87,628.46 342.50,628.47 345.13,628.47 347.76,628.47 350.39,628.48 353.02,628.48 355.65,628.48 358.28,628.48 360.91,628.48 363.53,628.49 366.16,628.49 368.79,628.49 371.42,628.49 374.05,628.49 376.68,628.49 379.31,628.50 381.94,628.50 384.57,628.50 387.20,628.50 389.82,628.50 392.45,628.50 395.08,628.50 397.71,628.51 400.34,628.51 402.97,628.51 405.60,628.51 408.23,628.51 410.86,628.51 413.49,628.51 416.11,628.51 418.74,628.51 421.37,628.51 424.00,628.52 426.63,628.52 429.26,628.52 431.89,628.52 434.52,628.52 437.15,628.52 439.78,628.52 442.40,628.52 445.03,628.52 447.66,628.52 450.29,628.52 452.92,628.52 455.55,628.52 458.18,628.52 460.81,628.52 463.44,628.52 466.07,628.52 468.69,628.52 471.32,628.52 473.95,628.52 476.58,628.52 479.21,628.52 481.84,628.52 484.47,628.52 487.10,628.52 489.73,628.51 492.36,628.51 494.98,628.51 497.61,628.51 500.24,628.51 502.87,628.51 505.50,628.51 508.13,628.51 510.76,628.51 513.39,628.51 516.02,628.51 518.65,628.50 521.27,628.50 523.90,628.50 526.53,628.50 529.16,628.50 531.79,628.50 534.42,628.50 537.05,628.49 539.68,628.49 542.31,628.49 544.94,628.49 547.56,628.49 550.19,628.49 552.82,628.48 555.45,628.48 558.08,628.48 560.71,628.48 563.34,628.49 565.97,628.49 568.60,628.50 571.23,628.51 573.86,628.53 576.48,628.56 579.11,628.61 581.74,628.67 584.37,628.75 587.00,628.87" stroke="#00ffff" stroke-width="4.6"/>
<polyline points="61.20,716.29 63.83,714.01 66.46,711.73 69.09,709.47 71.72,707.24 74.34,705.06 76.97,702.95 79.60,700.93 82.23,699.00 84.86,697.17 87.49,695.45 90.12,693.84 92.75,692.33 95.38,690.92 98.01,689.61 100.63,688.40 103.26,687.29 105.89,686.26 108.52,685.33 111.15,684.47 113.78,683.68 116.41,682.96 119.04,682.30 121.67,681.69 124.30,681.14 126.92,680.64 129.55,680.17 132.18,679.75 134.81,679.37 137.44,679.02 140.07,678.70 142.70,678.42 145.33,678.18 147.96,677.96 150.59,677.78 153.21,677.62 155.84,677.49 158.47,677.38 161.10,677.28 163.73,677.19 166.36,677.11 168.99,677.04 171.62,676.98 174.25,676.92 176.88,676.86 179.50,676.81 182.13,676.77 184.76,676.72 187.39,676.68 190.02,676.64 192.65,676.61 195.28,676.57 197.91,676.54 200.54,676.50 203.17,676.47 205.79,676.45 208.42,676.43 211.05,676.41 213.68,676.39 216.31,676.38 218.94,676.37 221.57,676.37 224.20,676.37 226.83,676.37 229.46,676.37 232.08,676.37 234.71,676.37 237.34,676.37 239.97,676.37 242.60,676.37 245.23,676.38 247.86,676.38 250.49,676.38 253.12,676.38 255.75,676.38 258.38,676.39 261.00,676.39 263.63,676.39 266.26,676.39 268.89,676.40 271.52,676.40 274.15,676.40 276.78,676.40 279.41,676.40 282.04,676.41 284.66,676.41 287.29,676.41 289.92,676.41 292.55,676.41 295.18,676.41 297.81,676.42 300.44,676.42 303.07,676.42 305.70,676.42 308.33,676.42 310.95,676.42 313.58,676.42 316.21,676.42 318.84,676.42 321.47,676.43 324.10,676.43 326.73,676.43 329.36,676.43 331.99,676.43 334.62,676.43 337.24,676.43 339.87,676.43 342.50,676.43 345.13,676.43 347.76,676.42 350.39,676.42 353.02,676.42 355.65,676.42 358.28,676.42 360.91,676.42 363.53,676.42 366.16,676.42 368.79,676.42 371.42,676.42 374.05,676.42 376.68,676.41 379.31,676.41 381.94,676.41 384.57,676.41 387.20,676.41 389.82,676.41 392.45,676.41 395.08,676.40 397.71,676.40 400.34,676.40 402.97,676.40 405.60,676.40 408.23,676.40 410.86,676.39 413.49,676.39 416.11,676.39 418.74,676.39 421.37,676.39 424.00,676.39 426.63,676.38 429.26,676.38 431.89,676.38 434.52,676.38 437.15,676.38 439.78,676.38 442.40,676.37 445.03,676.37 447.66,676.37 450.29,676.37 452.92,676.37 455.55,676.36 458.18,676.36 460.81,676.36 463.44,676.36 466.07,676.36 468.69,676.35 471.32,676.35 473.95,676.35 476.58,676.35 479.21,676.35 481.84,676.34 484.47,676.34 487.10,676.34 489.73,676.34 492.36,676.33 494.98,676.33 497.61,676.33 500.24,676.33 502.87,676.33 505.50,676.32 508.13,676.32 510.76,676.32 513.39,676.32 516.02,676.31 518.65,676.31 521.27,676.31 523.90,676.30 526.53,676.30 529.16,676.30 531.79,676.30 534.42,676.29 537.05,676.29 539.68,676.29 542.31,676.28 544.94,676.28 547.56,676.28 550.19,676.28 552.82,676.27 555.45,676.27 558.08,676.27 560.71,676.27 563.34,676.27 565.97,676.27 568.60,676.27 571.23,676.27 573.86,676.28 576.48,676.29 579.11,676.31 581.74,676.33 584.37,676.37 587.00,676.42" stroke="#ff00ff" stroke-width="4.6"/>
<polyline points="61.20,716.51 63.83,714.95 66.46,713.54 69.09,712.29 71.72,711.22 74.34,710.33 76.97,709.59 79.60,708.98 82.23,708.47 84.86,708.03 87.49,707.66 90.12,707.34 92.75,707.07 95.38,706.82 98.01,706.61 100.63,706.43 103.26,706.27 105.89,706.14 108.52,706.03 111.15,705.94 113.78,705.86 116.41,705.79 119.04,705.74 121.67,705.69 124.30,705.65 126.92,705.61 129.55,705.58 132.18,705.56 134.81,705.54 137.44,705.52 140.07,705.51 142.70,705.50 145.33,705.49 147.96,705.48 150.59,705.47 153.21,705.46 155.84,705.45 158.47,705.44 161.10,705.44 163.73,705.43 166.36,705.43 168.99,705.42 171.62,705.42 174.25,705.41 176.88,705.41 179.50,705.40 182.13,705.40 184.76,705.40 187.39,705.39 190.02,705.39 192.65,705.39 195.28,705.38 197.91,705.38 200.54,705.38 203.17,705.38 205.79,705.37 208.42,705.37 211.05,705.37 213.68,705.37 216.31,705.36 218.94,705.36 221.57,705.36 224.20,705.36 226.83,705.36 229.46,705.35 232.08,705.35 234.71,705.35 237.34,705.35 239.97,705.35 242.60,705.34 245.23,705.34 247.86,705.34 250.49,705.34 253.12,705.34 255.75,705.34 258.38,705.33 261.00,705.33 263.63,705.33 266.26,705.33 268.89,705.33 271.52,705.33 274.15,705.33 276.78,705.32 279.41,705.32 282.04,705.32 284.66,705.32 287.29,705.32 289.92,705.32 292.55,705.31 295.18,705.31 297.81,705.31 300.44,705.31 303.07,705.31 305.70,705.31 308.33,705.30 310.95,705.30 313.58,705.30 316.21,705.30 318.84,705.30 321.47,705.30 324.10,705.29 326.73,705.29 329.36,705.29 331.99,705.29 334.62,705.28 337.24,705.28 339.87,705.28 342.50,705.28 345.13,705.28 347.76,705.27 350.39,705.27 353.02,705.27 355.65,705.27 358.28,705.26 360.91,705.26 363.53,705.26 366.16,705.26 368.79,705.25 371.42,705.25 374.05,705.25 376.68,705.25 379.31,705.24 381.94,705.24 384.57,705.24 387.20,705.23 389.82,705.23 392.45,705.23 395.08,705.23 397.71,705.22 400.34,705.22 402.97,705.22 405.60,705.22 408.23,705.21 410.86,705.21 413.49,705.21 416.11,705.20 418.74,705.20 421.37,705.20 424.00,705.20 426.63,705.19 429.26,705.19 431.89,705.19 434.52,705.19 437.15,705.18 439.78,705.18 442.40,705.18 445.03,705.17 447.66,705.17 450.29,705.17 452.92,705.17 455.55,705.16 458.18,705.16 460.81,705.16 463.44,705.16 466.07,705.15 468.69,705.15 471.32,705.15 473.95,705.14 476.58,705.14 479.21,705.14 481.84,705.14 484.47,705.13 487.10,705.13 489.73,705.13 492.36,705.13 494.98,705.12 497.61,705.12 500.24,705.12 502.87,705.12 505.50,705.11 508.13,705.11 510.76,705.11 513.39,705.10 516.02,705.10 518.65,705.10 521.27,705.10 523.90,705.09 526.53,705.09 529.16,705.09 531.79,705.09 534.42,705.08 537.05,705.08 539.68,705.08 542.31,705.08 544.94,705.07 547.56,705.07 550.19,705.07 552.82,705.07 555.45,705.06 558.08,705.06 560.71,705.06 563.34,705.06 565.97,705.05 568.60,705.05 571.23,705.05 573.86,705.05 576.48,705.05 579.11,705.06 581.74,705.06 584.37,705.07 587.00,705.08" stroke="#ffff00" stroke-width="5.3"/>
<polyline points="61.20,716.34 63.83,715.90 66.46,715.48 69.09,715.08 71.72,714.72 74.34,714.39 76.97,714.09 79.60,713.83 82.23,713.61 84.86,713.43 87.49,713.29 90.12,713.17 92.75,713.07 95.38,712.99 98.01,712.92 100.63,712.86 103.26,712.81 105.89,712.76 108.52,712.73 111.15,712.71 113.78,712.69 116.41,712.68 119.04,712.67 121.67,712.66 124.30,712.66 126.92,712.65 129.55,712.65 132.18,712.65 134.81,712.64 137.44,712.64 140.07,712.64 142.70,712.63 145.33,712.63 147.96,712.63 150.59,712.63 153.21,712.62 155.84,712.62 158.47,712.62 161.10,712.62 163.73,712.62 166.36,712.62 168.99,712.61 171.62,712.61 174.25,712.61 176.88,712.61 179.50,712.61 182.13,712.61 184.76,712.61 187.39,712.61 190.02,712.61 192.65,712.61 195.28,712.61 197.91,712.61 200.54,712.61 203.17,712.62 205.79,712.62 208.42,712.62 211.05,712.63 213.68,712.63 216.31,712.64 218.94,712.64 221.57,712.65 224.20,712.65 226.83,712.66 229.46,712.67 232.08,712.68 234.71,712.68 237.34,712.69 239.97,712.70 242.60,712.71 245.23,712.72 247.86,712.73 250.49,712.74 253.12,712.75 255.75,712.76 258.38,712.77 261.00,712.78 263.63,712.79 266.26,712.80 268.89,712.81 271.52,712.82 274.15,712.83 276.78,712.84 279.41,712.85 282.04,712.86 284.66,712.87 287.29,712.88 289.92,712.89 292.55,712.90 295.18,712.91 297.81,712.92 300.44,712.93 303.07,712.93 305.70,712.94 308.33,712.95 310.95,712.96 313.58,712.97 316.21,712.98 318.84,712.98 321.47,712.99 324.10,713.00 326.73,713.00 329.36,713.01 331.99,713.02 334.62,713.03 337.24,713.03 339.87,713.04 342.50,713.04 345.13,713.05 347.76,713.06 350.39,713.06 353.02,713.07 355.65,713.07 358.28,713.08 360.91,713.08 363.53,713.09 366.16,713.10 368.79,713.10 371.42,713.11 374.05,713.11 376.68,713.12 379.31,713.12 381.94,713.13 384.57,713.13 387.20,713.14 389.82,713.14 392.45,713.15 395.08,713.15 397.71,713.16 400.34,713.16 402.97,713.17 405.60,713.17 408.23,713.18 410.86,713.18 413.49,713.19 416.11,713.19 418.74,713.20 421.37,713.20 424.00,713.21 426.63,713.21 429.26,713.22 431.89,713.22 434.52,713.23 437.15,713.23 439.78,713.24 442.40,713.24 445.03,713.25 447.66,713.25 450.29,713.26 452.92,713.26 455.55,713.27 458.18,713.27 460.81,713.28 463.44,713.28 466.07,713.29 468.69,713.30 471.32,713.30 473.95,713.31 476.58,713.31 479.21,713.32 481.84,713.32 484.47,713.33 487.10,713.33 489.73,713.34 492.36,713.34 494.98,713.35 497.61,713.35 500.24,713.36 502.87,713.36 505.50,713.37 508.13,713.37 510.76,713.38 513.39,713.38 516.02,713.39 518.65,713.40 521.27,713.40 523.90,713.41 526.53,713.41 529.16,713.42 531.79,713.42 534.42,713.43 537.05,713.43 539.68,713.44 542.31,713.44 544.94,713.45 547.56,713.45 550.19,713.46 552.82,713.46 555.45,713.47 558.08,713.47 560.71,713.48 563.34,713.49 565.97,713.49 568.60,713.50 571.23,713.50 573.86,713.51 576.48,713.51 579.11,713.52 581.74,713.53 584.37,713.54 587.00,713.54" stroke="#808000" stroke-width="4.6"/>
<polyline points="61.20,716.30 63.83,716.30 66.46,716.30 69.09,716.29 71.72,716.29 74.34,716.29 76.97,716.29 79.60,716.28 82.23,716.28 84.86,716.28 87.49,716.28 90.12,716.27 92.75,716.27 95.38,716.27 98.01,716.27 100.63,716.27 103.26,716.26 105.89,716.26 108.52,716.26 111.15,716.26 113.78,716.25 116.41,716.25 119.04,716.25 121.67,716.25 124.30,716.25 126.92,716.24 129.55,716.24 132.18,716.24 134.81,716.24 137.44,716.24 140.07,716.23 142.70,716.23 145.33,716.23 147.96,716.23 150.59,716.22 153.21,716.22 155.84,716.22 158.47,716.22 161.10,716.22 163.73,716.21 166.36,716.21 168.99,716.21 171.62,716.21 174.25,716.21 176.88,716.20 179.50,716.20 182.13,716.20 184.76,716.20 187.39,716.20 190.02,716.19 192.65,716.19 195.28,716.19 197.91,716.19 200.54,716.19 203.17,716.18 205.79,716.18 208.42,716.18 211.05,716.18 213.68,716.18 216.31,716.17 218.94,716.17 221.57,716.17 224.20,716.17 226.83,716.17 229.46,716.16 232.08,716.16 234.71,716.16 237.34,716.16 239.97,716.16 242.60,716.16 245.23,716.15 247.86,716.15 250.49,716.15 253.12,716.15 255.75,716.15 258.38,716.14 261.00,716.14 263.63,716.14 266.26,716.14 268.89,716.14 271.52,716.14 274.15,716.13 276.78,716.13 279.41,716.13 282.04,716.13 284.66,716.13 287.29,716.13 289.92,716.12 292.55,716.12 295.18,716.12 297.81,716.12 300.44,716.12 303.07,716.12 305.70,716.11 308.33,716.11 310.95,716.11 313.58,716.11 316.21,716.11 318.84,716.11 321.47,716.10 324.10,716.10 326.73,716.10 329.36,716.10 331.99,716.10 334.62,716.10 337.24,716.09 339.87,716.09 342.50,716.09 345.13,716.09 347.76,716.09 350.39,716.09 353.02,716.09 355.65,716.08 358.28,716.08 360.91,716.08 363.53,716.08 366.16,716.08 368.79,716.08 371.42,716.07 374.05,716.07 376.68,716.07 379.31,716.07 381.94,716.07 384.57,716.07 387.20,716.07 389.82,716.06 392.45,716.06 395.08,716.06 397.71,716.06 400.34,716.06 402.97,716.06 405.60,716.06 408.23,716.05 410.86,716.05 413.49,716.05 416.11,716.05 418.74,716.05 421.37,716.05 424.00,716.05 426.63,716.04 429.26,716.04 431.89,716.04 434.52,716.04 437.15,716.04 439.78,716.04 442.40,716.04 445.03,716.03 447.66,716.03 450.29,716.03 452.92,716.03 455.55,716.03 458.18,716.03 460.81,716.03 463.44,716.03 466.07,716.02 468.69,716.02 471.32,716.02 473.95,716.02 476.58,716.02 479.21,716.02 481.84,716.02 484.47,716.01 487.10,716.01 489.73,716.01 492.36,716.01 494.98,716.01 497.61,716.01 500.24,716.01 502.87,716.01 505.50,716.00 508.13,716.00 510.76,716.00 513.39,716.00 516.02,716.00 518.65,716.00 521.27,716.00 523.90,716.00 526.53,716.00 529.16,715.99 531.79,715.99 534.42,715.99 537.05,715.99 539.68,715.99 542.31,715.99 544.94,715.99 547.56,715.99 550.19,715.99 552.82,715.98 555.45,715.98 558.08,715.98 560.71,715.98 563.34,715.98 565.97,715.98 568.60,715.98 571.23,715.98 573.86,715.98 576.48,715.98 579.11,715.97 581.74,715.97 584.37,715.97 587.00,715.97" stroke="#800000" stroke-width="5.3"/>
</g>
<rect x="60.7" y="401.2" width="526.1" height="327.8" fill="none" stroke="#000" stroke-width="3.0"/>
<text x="50.3" y="724.9" font-size="27.5" text-anchor="end" fill="#000">0</text>
<text x="50.3" y="659.0" font-size="27.5" text-anchor="end" fill="#000">1</text>
<text x="50.3" y="593.1" font-size="27.5" text-anchor="end" fill="#000">2</text>
<text x="50.3" y="527.2" font-size="27.5" text-anchor="end" fill="#000">3</text>
<text x="50.3" y="461.3" font-size="27.5" text-anchor="end" fill="#000">4</text>
<text x="60.6" y="755.2" font-size="27.5" text-anchor="middle" fill="#000">0</text>
<text x="165.8" y="755.2" font-size="27.5" text-anchor="middle" fill="#000">2</text>
<text x="270.9" y="755.2" font-size="27.5" text-anchor="middle" fill="#000">4</text>
<text x="376.1" y="755.2" font-size="27.5" text-anchor="middle" fill="#000">6</text>
<text x="481.2" y="755.2" font-size="27.5" text-anchor="middle" fill="#000">8</text>
<text x="586.4" y="755.2" font-size="27.5" text-anchor="middle" fill="#000">10</text>
<text x="73.0" y="432.6" font-size="27" fill="#000">(e)</text>
<text x="286.6" y="777.8" font-size="26.5" fill="#000">V<tspan font-size="17.5" dy="12" dx="1.6">D</tspan><tspan dy="-12" dx="1.2"> (V)</tspan></text>
<text transform="translate(22.6,639.0) rotate(-90)" font-size="27.5" fill="#000">I<tspan font-size="17" dy="9">D</tspan><tspan dy="-9"> (mA)</tspan></text>
</g>
<g id="chart-f">
<path d="M94.60,1099.40 C95.23,1099.40 97.11,1099.40 98.36,1099.40 C99.62,1099.40 100.87,1099.40 102.12,1099.40 C103.38,1099.40 104.63,1099.40 105.89,1099.40 C107.14,1099.40 108.40,1099.40 109.65,1099.40 C110.90,1099.40 112.16,1099.40 113.41,1099.40 C114.67,1099.40 115.92,1099.40 117.17,1099.40 C118.43,1099.40 119.68,1099.40 120.94,1099.40 C122.19,1099.40 123.45,1099.40 124.70,1099.40 C125.95,1099.40 127.21,1099.40 128.46,1099.40 C129.72,1099.40 130.97,1099.40 132.22,1099.40 C133.48,1099.40 134.73,1099.40 135.99,1099.40 C137.24,1099.40 138.50,1099.40 139.75,1099.40 C141.00,1099.40 142.26,1099.40 143.51,1099.40 C144.77,1099.40 146.02,1099.40 147.27,1099.40 C148.53,1099.40 149.78,1099.40 151.04,1099.40 C152.29,1099.40 153.55,1099.40 154.80,1099.40 C156.05,1099.40 157.31,1099.40 158.56,1099.40 C159.82,1099.40 161.07,1099.40 162.32,1099.40 C163.58,1099.40 164.83,1099.40 166.09,1099.40 C167.34,1099.40 168.60,1099.40 169.85,1099.40 C171.10,1099.40 172.36,1099.40 173.61,1099.40 C174.87,1099.40 176.12,1099.40 177.37,1099.40 C178.63,1099.40 179.88,1099.40 181.14,1099.40 C182.39,1099.40 183.65,1099.40 184.90,1099.40 C186.15,1099.40 187.41,1099.40 188.66,1099.40 C189.92,1099.40 191.17,1099.40 192.42,1099.40 C193.68,1099.40 194.93,1099.40 196.19,1099.40 C197.44,1099.40 198.70,1099.40 199.95,1099.40 C201.20,1099.40 202.46,1099.40 203.71,1099.40 C204.97,1099.40 206.22,1099.40 207.47,1099.40 C208.73,1099.40 209.98,1099.40 211.24,1099.40 C212.49,1099.40 213.75,1099.40 215.00,1099.40 C216.25,1099.40 217.51,1099.39 218.76,1099.39 C220.02,1099.39 221.27,1099.39 222.52,1099.39 C223.78,1099.38 225.03,1099.38 226.29,1099.38 C227.54,1099.37 228.80,1099.37 230.05,1099.36 C231.30,1099.35 232.56,1099.34 233.81,1099.33 C235.07,1099.32 236.32,1099.31 237.57,1099.29 C238.83,1099.28 240.08,1099.26 241.34,1099.24 C242.59,1099.21 243.85,1099.18 245.10,1099.14 C246.35,1099.11 247.61,1099.06 248.86,1099.01 C250.12,1098.97 251.37,1098.92 252.62,1098.86 C253.88,1098.80 255.13,1098.73 256.39,1098.66 C257.64,1098.59 258.90,1098.52 260.15,1098.45 C261.40,1098.37 262.66,1098.30 263.91,1098.21 C265.17,1098.11 266.42,1098.00 267.67,1097.90 C268.93,1097.79 270.18,1097.69 271.44,1097.58 C272.69,1097.47 273.95,1097.38 275.20,1097.25 C276.45,1097.13 277.71,1096.97 278.96,1096.83 C280.22,1096.69 281.47,1096.57 282.72,1096.40 C283.98,1096.23 285.23,1096.03 286.49,1095.83 C287.74,1095.62 289.00,1095.42 290.25,1095.15 C291.50,1094.88 292.76,1094.49 294.01,1094.18 C295.27,1093.87 296.52,1093.59 297.77,1093.30 C299.03,1093.00 300.28,1092.71 301.54,1092.40 C302.79,1092.09 304.05,1091.79 305.30,1091.45 C306.55,1091.11 307.81,1090.74 309.06,1090.38 C310.32,1090.02 311.57,1089.65 312.82,1089.28 C314.08,1088.90 315.33,1088.52 316.59,1088.12 C317.84,1087.73 319.10,1087.33 320.35,1086.91 C321.60,1086.49 322.86,1086.06 324.11,1085.60 C325.37,1085.14 326.62,1084.67 327.87,1084.16 C329.13,1083.65 330.38,1083.11 331.64,1082.53 C332.89,1081.94 334.15,1081.32 335.40,1080.66 C336.65,1079.99 337.91,1079.27 339.16,1078.51 C340.42,1077.75 341.67,1076.94 342.92,1076.09 C344.18,1075.23 345.43,1074.33 346.69,1073.38 C347.94,1072.44 349.20,1071.44 350.45,1070.42 C351.70,1069.39 352.96,1068.32 354.21,1067.21 C355.47,1066.11 356.72,1064.96 357.97,1063.78 C359.23,1062.60 360.48,1061.38 361.74,1060.13 C362.99,1058.88 364.25,1057.59 365.50,1056.26 C366.75,1054.94 368.01,1053.58 369.26,1052.18 C370.52,1050.79 371.77,1049.36 373.02,1047.89 C374.28,1046.43 375.53,1044.93 376.79,1043.40 C378.04,1041.87 379.30,1040.31 380.55,1038.72 C381.80,1037.12 383.06,1035.50 384.31,1033.84 C385.57,1032.18 386.82,1030.50 388.07,1028.78 C389.33,1027.06 390.58,1025.30 391.84,1023.52 C393.09,1021.74 394.35,1019.92 395.60,1018.07 C396.85,1016.22 398.11,1014.34 399.36,1012.43 C400.62,1010.52 401.87,1008.58 403.12,1006.61 C404.38,1004.64 405.63,1002.64 406.89,1000.62 C408.14,998.59 409.40,996.54 410.65,994.48 C411.90,992.42 413.16,990.33 414.41,988.23 C415.67,986.13 416.92,984.02 418.17,981.90 C419.43,979.77 420.68,977.64 421.94,975.50 C423.19,973.35 424.45,971.20 425.70,969.05 C426.95,966.90 428.21,964.73 429.46,962.57 C430.72,960.41 431.97,958.24 433.22,956.08 C434.48,953.92 435.73,951.75 436.99,949.60 C438.24,947.44 439.50,945.29 440.75,943.15 C442.00,941.02 443.26,938.89 444.51,936.78 C445.77,934.68 447.02,932.58 448.27,930.52 C449.53,928.45 450.78,926.41 452.04,924.39 C453.29,922.37 454.55,920.37 455.80,918.40 C457.05,916.43 458.31,914.49 459.56,912.56 C460.82,910.64 462.07,908.74 463.32,906.87 C464.58,904.99 465.83,903.14 467.09,901.31 C468.34,899.48 469.60,897.67 470.85,895.89 C472.10,894.11 473.36,892.35 474.61,890.62 C475.87,888.89 477.12,887.19 478.37,885.52 C479.63,883.84 480.88,882.20 482.14,880.59 C483.39,878.99 484.65,877.41 485.90,875.87 C487.15,874.33 488.41,872.83 489.66,871.37 C490.92,869.90 492.17,868.47 493.42,867.09 C494.68,865.70 495.93,864.35 497.19,863.04 C498.44,861.73 499.70,860.46 500.95,859.22 C502.20,857.99 503.46,856.79 504.71,855.63 C505.97,854.47 507.22,853.34 508.47,852.25 C509.73,851.15 510.98,850.09 512.24,849.04 C513.49,848.00 514.75,846.99 516.00,846.00 C517.25,845.01 518.51,844.05 519.76,843.10 C521.02,842.15 522.27,841.22 523.52,840.32 C524.78,839.41 526.03,838.52 527.29,837.65 C528.54,836.78 529.80,835.92 531.05,835.09 C532.30,834.25 533.56,833.43 534.81,832.63 C536.07,831.82 537.32,831.04 538.57,830.26 C539.83,829.49 541.08,828.73 542.34,827.99 C543.59,827.24 545.47,826.14 546.10,825.78" stroke="#000" stroke-width="4.7" fill="none" stroke-linecap="round" stroke-linejoin="round"/>
<path d="M92.1,1110.4h5.0v5.0h-5.0zM95.9,1110.0h5.0v5.0h-5.0zM99.6,1108.2h5.0v5.0h-5.0zM103.4,1107.3h5.0v5.0h-5.0zM107.1,1107.3h5.0v5.0h-5.0zM110.9,1111.8h5.0v5.0h-5.0zM114.7,1108.2h5.0v5.0h-5.0zM118.4,1110.0h5.0v5.0h-5.0zM122.2,1110.9h5.0v5.0h-5.0zM126.0,1110.5h5.0v5.0h-5.0zM129.7,1113.0h5.0v5.0h-5.0zM133.5,1110.9h5.0v5.0h-5.0zM137.2,1110.0h5.0v5.0h-5.0zM141.0,1108.2h5.0v5.0h-5.0zM144.8,1114.5h5.0v5.0h-5.0zM148.5,1111.8h5.0v5.0h-5.0zM152.3,1110.0h5.0v5.0h-5.0zM156.1,1115.3h5.0v5.0h-5.0zM159.8,1110.9h5.0v5.0h-5.0zM163.6,1112.7h5.0v5.0h-5.0zM167.3,1111.8h5.0v5.0h-5.0zM171.1,1110.9h5.0v5.0h-5.0zM174.9,1109.1h5.0v5.0h-5.0zM178.6,1106.5h5.0v5.0h-5.0zM182.4,1112.7h5.0v5.0h-5.0zM186.2,1104.2h5.0v5.0h-5.0zM189.9,1097.9h5.0v5.0h-5.0zM193.7,1086.8h5.0v5.0h-5.0zM197.4,1074.3h5.0v5.0h-5.0zM201.2,1060.1h5.0v5.0h-5.0zM205.0,1044.3h5.0v5.0h-5.0zM208.7,1030.4h5.0v5.0h-5.0zM212.5,1017.1h5.0v5.0h-5.0zM216.3,1005.0h5.0v5.0h-5.0zM220.0,994.0h5.0v5.0h-5.0zM223.8,983.6h5.0v5.0h-5.0zM227.5,975.3h5.0v5.0h-5.0zM231.3,965.3h5.0v5.0h-5.0zM235.1,957.2h5.0v5.0h-5.0zM238.8,949.4h5.0v5.0h-5.0zM242.6,941.5h5.0v5.0h-5.0zM246.4,934.2h5.0v5.0h-5.0zM250.1,928.1h5.0v5.0h-5.0zM253.9,922.6h5.0v5.0h-5.0zM257.6,918.0h5.0v5.0h-5.0zM261.4,914.0h5.0v5.0h-5.0zM265.2,909.9h5.0v5.0h-5.0zM268.9,906.5h5.0v5.0h-5.0zM272.7,903.5h5.0v5.0h-5.0zM276.5,900.3h5.0v5.0h-5.0zM280.2,897.5h5.0v5.0h-5.0zM284.0,894.4h5.0v5.0h-5.0zM287.7,891.3h5.0v5.0h-5.0zM291.5,887.7h5.0v5.0h-5.0zM295.3,884.9h5.0v5.0h-5.0zM299.0,882.4h5.0v5.0h-5.0zM302.8,880.1h5.0v5.0h-5.0zM306.6,877.9h5.0v5.0h-5.0zM310.3,875.8h5.0v5.0h-5.0zM314.1,873.9h5.0v5.0h-5.0zM317.8,872.1h5.0v5.0h-5.0zM321.6,870.3h5.0v5.0h-5.0zM325.4,868.5h5.0v5.0h-5.0zM329.1,866.7h5.0v5.0h-5.0zM332.9,864.8h5.0v5.0h-5.0zM336.7,862.9h5.0v5.0h-5.0zM340.4,860.9h5.0v5.0h-5.0zM344.2,859.0h5.0v5.0h-5.0zM347.9,857.1h5.0v5.0h-5.0zM351.7,855.2h5.0v5.0h-5.0zM355.5,853.4h5.0v5.0h-5.0zM359.2,851.6h5.0v5.0h-5.0zM363.0,850.0h5.0v5.0h-5.0zM366.8,848.4h5.0v5.0h-5.0zM370.5,846.8h5.0v5.0h-5.0zM374.3,845.3h5.0v5.0h-5.0zM378.0,843.9h5.0v5.0h-5.0zM381.8,842.5h5.0v5.0h-5.0zM385.6,841.2h5.0v5.0h-5.0zM389.3,839.9h5.0v5.0h-5.0zM393.1,838.6h5.0v5.0h-5.0zM396.9,837.4h5.0v5.0h-5.0zM400.6,836.3h5.0v5.0h-5.0zM404.4,835.2h5.0v5.0h-5.0zM408.1,834.1h5.0v5.0h-5.0zM411.9,833.1h5.0v5.0h-5.0zM415.7,832.1h5.0v5.0h-5.0zM419.4,831.1h5.0v5.0h-5.0zM423.2,830.2h5.0v5.0h-5.0zM427.0,829.4h5.0v5.0h-5.0zM430.7,828.5h5.0v5.0h-5.0zM434.5,827.7h5.0v5.0h-5.0zM438.2,827.0h5.0v5.0h-5.0zM442.0,826.3h5.0v5.0h-5.0zM445.8,825.6h5.0v5.0h-5.0zM449.5,825.0h5.0v5.0h-5.0zM453.3,824.4h5.0v5.0h-5.0zM457.1,823.8h5.0v5.0h-5.0zM460.8,823.3h5.0v5.0h-5.0zM464.6,822.8h5.0v5.0h-5.0zM468.3,822.3h5.0v5.0h-5.0zM472.1,821.8h5.0v5.0h-5.0zM475.9,821.4h5.0v5.0h-5.0zM479.6,821.0h5.0v5.0h-5.0zM483.4,820.6h5.0v5.0h-5.0zM487.2,820.2h5.0v5.0h-5.0zM490.9,819.9h5.0v5.0h-5.0zM494.7,819.6h5.0v5.0h-5.0zM498.4,819.3h5.0v5.0h-5.0zM502.2,819.1h5.0v5.0h-5.0zM506.0,818.8h5.0v5.0h-5.0zM509.7,818.6h5.0v5.0h-5.0zM513.5,818.4h5.0v5.0h-5.0zM517.3,818.2h5.0v5.0h-5.0zM521.0,818.0h5.0v5.0h-5.0zM524.8,817.8h5.0v5.0h-5.0zM528.5,817.6h5.0v5.0h-5.0zM532.3,817.4h5.0v5.0h-5.0zM536.1,817.3h5.0v5.0h-5.0zM539.8,817.1h5.0v5.0h-5.0zM543.6,817.0h5.0v5.0h-5.0z" fill="#ff0000"/>
<path d="M189.0,1116.0 L249.5,901.0" stroke="#0000ff" stroke-width="2.0" fill="none"/>
<path d="M57.8,802.5 V1133.6" stroke="#000" stroke-width="2.6" fill="none"/>
<path d="M56.5,1132.4 H582.6" stroke="#000" stroke-width="2.6" fill="none"/>
<path d="M56.5,802.7 H573.5" stroke="#000" stroke-width="1.7" fill="none"/>
<path d="M57.8,1099.4 h9.5 M57.8,1066.5 h5.0 M57.8,1033.5 h9.5 M57.8,1000.6 h5.0 M57.8,967.6 h9.5 M57.8,934.7 h5.0 M57.8,901.7 h9.5 M57.8,868.8 h5.0 M57.8,835.8 h9.5 M94.6,1132.4 v-9.5 M132.2,1132.4 v-5.0 M169.8,1132.4 v-9.5 M207.5,1132.4 v-5.0 M245.1,1132.4 v-9.5 M282.7,1132.4 v-5.0 M320.4,1132.4 v-9.5 M358.0,1132.4 v-5.0 M395.6,1132.4 v-9.5 M433.2,1132.4 v-5.0 M470.9,1132.4 v-9.5 M508.5,1132.4 v-5.0 M546.1,1132.4 v-9.5" stroke="#000" stroke-width="2.2" fill="none"/>
<text x="52.6" y="1108.8" font-size="27.5" text-anchor="end" fill="#000">0</text>
<text x="52.6" y="1042.9" font-size="27.5" text-anchor="end" fill="#000">1</text>
<text x="52.6" y="977.0" font-size="27.5" text-anchor="end" fill="#000">2</text>
<text x="52.6" y="911.1" font-size="27.5" text-anchor="end" fill="#000">3</text>
<text x="52.6" y="845.2" font-size="27.5" text-anchor="end" fill="#000">4</text>
<text x="94.4" y="1159.6" font-size="27.5" text-anchor="middle" fill="#000">-4</text>
<text x="169.7" y="1159.6" font-size="27.5" text-anchor="middle" fill="#000">-3</text>
<text x="244.9" y="1159.6" font-size="27.5" text-anchor="middle" fill="#000">-2</text>
<text x="320.2" y="1159.6" font-size="27.5" text-anchor="middle" fill="#000">-1</text>
<text x="395.0" y="1159.6" font-size="27.5" text-anchor="middle" fill="#000">0</text>
<text x="470.2" y="1159.6" font-size="27.5" text-anchor="middle" fill="#000">1</text>
<text x="545.5" y="1159.6" font-size="27.5" text-anchor="middle" fill="#000">2</text>
<text x="77.0" y="840.8" font-size="26" fill="#000">(f)</text>
<text x="92.6" y="925.2" font-size="25.8" fill="#000">150 mV/dec</text>
<text x="281.8" y="1184.0" font-size="26.5" fill="#000">V<tspan font-size="17.5" dy="12" dx="1.6">G</tspan><tspan dy="-12" dx="1.2"> (V)</tspan></text>
<text transform="translate(22.8,1014.3) rotate(-90)" font-size="27.5" fill="#000">I<tspan font-size="17" dy="9">D</tspan><tspan dy="-9"> (mA)</tspan></text>
<path d="M583.6,802.4 V1133.7" stroke="#ff0000" stroke-width="2.8" fill="none"/>
<path d="M583.6,803.8 h-10.5 M583.6,832.5 h-6 M583.6,825.3 h-6 M583.6,820.2 h-6 M583.6,816.2 h-6 M583.6,812.9 h-6 M583.6,810.2 h-6 M583.6,807.8 h-6 M583.6,805.7 h-6 M583.6,844.9 h-10.5 M583.6,873.6 h-6 M583.6,866.4 h-6 M583.6,861.3 h-6 M583.6,857.3 h-6 M583.6,854.0 h-6 M583.6,851.3 h-6 M583.6,848.9 h-6 M583.6,846.8 h-6 M583.6,886.0 h-10.5 M583.6,914.7 h-6 M583.6,907.5 h-6 M583.6,902.4 h-6 M583.6,898.4 h-6 M583.6,895.1 h-6 M583.6,892.4 h-6 M583.6,890.0 h-6 M583.6,887.9 h-6 M583.6,927.1 h-10.5 M583.6,955.8 h-6 M583.6,948.6 h-6 M583.6,943.5 h-6 M583.6,939.5 h-6 M583.6,936.2 h-6 M583.6,933.5 h-6 M583.6,931.1 h-6 M583.6,929.0 h-6 M583.6,968.2 h-10.5 M583.6,996.9 h-6 M583.6,989.7 h-6 M583.6,984.6 h-6 M583.6,980.6 h-6 M583.6,977.3 h-6 M583.6,974.6 h-6 M583.6,972.2 h-6 M583.6,970.1 h-6 M583.6,1009.3 h-10.5 M583.6,1038.0 h-6 M583.6,1030.8 h-6 M583.6,1025.7 h-6 M583.6,1021.7 h-6 M583.6,1018.4 h-6 M583.6,1015.7 h-6 M583.6,1013.3 h-6 M583.6,1011.2 h-6 M583.6,1050.4 h-10.5 M583.6,1079.1 h-6 M583.6,1071.9 h-6 M583.6,1066.8 h-6 M583.6,1062.8 h-6 M583.6,1059.5 h-6 M583.6,1056.8 h-6 M583.6,1054.4 h-6 M583.6,1052.3 h-6 M583.6,1091.5 h-10.5 M583.6,1120.2 h-6 M583.6,1113.0 h-6 M583.6,1107.9 h-6 M583.6,1103.9 h-6 M583.6,1100.6 h-6 M583.6,1097.9 h-6 M583.6,1095.5 h-6 M583.6,1093.4 h-6 M583.6,1132.6 h-10.5" stroke="#ff0000" stroke-width="1.9" fill="none"/>
<text x="591.0" y="814.1" font-size="26.3" fill="#f00000">10<tspan font-size="16.5" dy="-13" dx="-0.8" letter-spacing="-1.2">1</tspan></text>
<text x="591.0" y="896.3" font-size="26.3" fill="#f00000">10<tspan font-size="16.5" dy="-13" dx="-0.8" letter-spacing="-1.2">-1</tspan></text>
<text x="591.0" y="978.5" font-size="26.3" fill="#f00000">10<tspan font-size="16.5" dy="-13" dx="-0.8" letter-spacing="-1.2">-3</tspan></text>
<text x="591.0" y="1060.7" font-size="26.3" fill="#f00000">10<tspan font-size="16.5" dy="-13" dx="-0.8" letter-spacing="-1.2">-5</tspan></text>
<text x="591.0" y="1142.9" font-size="26.3" fill="#f00000">10<tspan font-size="16.5" dy="-13" dx="-0.8" letter-spacing="-1.2">-7</tspan></text>
<text transform="translate(660.4,1013.8) rotate(-90)" font-size="27.5" fill="#f00000">I<tspan font-size="17" dy="11">D</tspan><tspan dy="-11"> (mA)</tspan></text>
</g>
</svg>
</body></html>
